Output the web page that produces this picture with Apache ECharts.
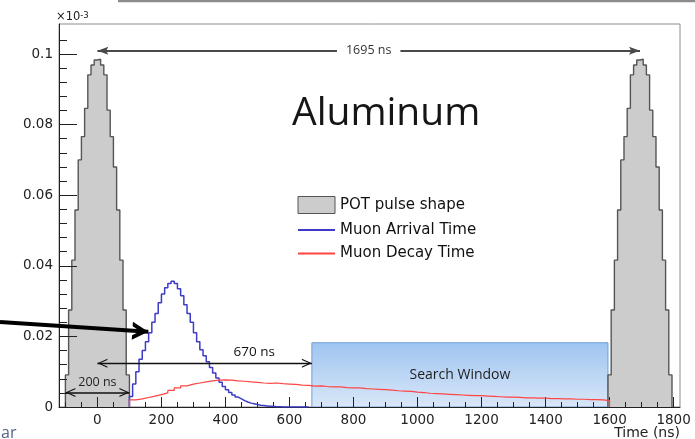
<!DOCTYPE html>
<html>
<head>
<meta charset="utf-8">
<script src="https://cdn.jsdelivr.net/npm/echarts@6/dist/echarts.min.js"></script>
<style>
html, body { margin: 0; padding: 0; background: #fff; }
#chart { width: 695px; height: 439px; }
</style>
</head>
<body>
<div id="chart"></div>
<script>
// Proton-on-target pulse: 10 ns bins covering +/-100 ns around each pulse centre (ns)
const pulseCentres = [0, 1695];
const pulseBinWidth = 10;
const pulseShape = [0.0091, 0.0275, 0.0416, 0.0558, 0.0700, 0.0766, 0.0846, 0.0941, 0.0969, 0.0983,
                    0.0985, 0.0969, 0.0941, 0.0841, 0.0766, 0.0680, 0.0558, 0.0416, 0.0275, 0.0091];

// Muon arrival time, 10 ns bins starting at 100 ns
const arrivalStart = 100;
const arrivalBinWidth = 10;
const arrivalValues = [0.0030, 0.0065, 0.0100, 0.0135, 0.0160, 0.0185, 0.0210, 0.0240, 0.0265, 0.0295,
                       0.0320, 0.0338, 0.0350, 0.0356, 0.0350, 0.0335, 0.0315, 0.0290, 0.0265, 0.0240,
                       0.0210, 0.0185, 0.0162, 0.0145, 0.0128, 0.0112, 0.0096, 0.0082, 0.0070, 0.0058,
                       0.0049, 0.0041, 0.0034, 0.0028, 0.0023, 0.0018, 0.0014, 0.0011, 0.0009, 0.0007,
                       0.0005, 0.0004, 0.0003, 0.0002, 0.0002, 0.0001, 0.0001, 0, 0, 0,
                       0, 0, 0, 0, 0, 0];

// Muon decay time, 20 ns bins starting at 100 ns
const decayStart = 100;
const decayBinWidth = 20;
const decayValues = [0.0020, 0.0023, 0.0027, 0.0031, 0.0035, 0.0040, 0.0047, 0.0054, 0.0060, 0.0065,
                     0.0068, 0.0071, 0.0074, 0.0076, 0.0077, 0.0076, 0.0074, 0.0073, 0.0071, 0.0070,
                     0.0068, 0.0067, 0.0068, 0.0066, 0.0065, 0.0064, 0.0062, 0.0061, 0.0059, 0.0060,
                     0.0058, 0.0057, 0.0057, 0.0055, 0.0054, 0.0054, 0.0052, 0.0051, 0.0050, 0.0049,
                     0.0048, 0.0046, 0.0045, 0.0044, 0.0042, 0.0041, 0.0039, 0.0038, 0.0037, 0.0036,
                     0.0035, 0.0034, 0.0033, 0.0032, 0.0032, 0.0031, 0.0030, 0.0029, 0.0028, 0.0028,
                     0.0027, 0.0026, 0.0026, 0.0025, 0.0025, 0.0024, 0.0024, 0.0023, 0.0023, 0.0022,
                     0.0022, 0.0021, 0.0021, 0.0020, 0.0018];

// Axis tick labels
const xTickValues = [0, 200, 400, 600, 800, 1000, 1200, 1400, 1600, 1800];
const yTickValues = [0, 0.02, 0.04, 0.06, 0.08, 0.1];

// Timing annotations (ns) and the search window
const bunchSpacing = 1695;
const windowDelay = 670;
const pulseWidth = 200;
const searchWindow = [670, 1595];
const searchWindowTop = 0.0182;

const xMinor = [];
for (let v = -100; v <= 1800; v += 50) xMinor.push(v);
const yMinor = [];
for (let i = 1; i <= 26; i++) yMinor.push(+(i * 0.004).toFixed(3));

// Turn bin contents into the outline of a step histogram
function histSteps(start, width, values) {
  const pts = [[start, 0]];
  values.forEach((v, i) => {
    pts.push([start + i * width, v]);
    pts.push([start + (i + 1) * width, v]);
  });
  pts.push([start + values.length * width, 0]);
  return pts;
}

const FONT = 'DejaVu Sans';
const NOTE_FONT = 'Open Sans';
// Arrow heads: the trailing moveTo mirrors the head's extent so its tip sits at the symbol centre,
// i.e. exactly on the line's end point.
const filledHead = 'path://M5,0 L10,12 L5,9.5 L0,12 Z M5,-12';
const thinChevron = 'path://M0,10 L5,0 L10,10 L8.7,10 L5,2.6 L1.3,10 Z M5,-10';
const boldChevron = 'path://M0,16 L9,0 L18,16 L13.5,16 L9,8 L4.5,16 Z M9,-16';

const pulseSeries = pulseCentres.map(c => ({
  type: 'line',
  name: 'POT pulse shape',
  data: histSteps(c - pulseBinWidth * pulseShape.length / 2, pulseBinWidth, pulseShape),
  symbol: 'none',
  lineStyle: { color: '#555', width: 1.4 },
  itemStyle: { color: '#cccccc' },
  areaStyle: { color: '#cccccc', opacity: 1 },
  z: 2
}));

function noteSeries(extra) {
  return Object.assign({ type: 'line', data: [], symbol: 'none', silent: true }, extra);
}

const chart = echarts.init(document.getElementById('chart'), null, { renderer: 'canvas' });

chart.setOption({
  animation: false,
  backgroundColor: '#fff',
  title: {
    text: 'Aluminum',
    left: 292, top: 94, padding: 0,
    textStyle: { fontFamily: NOTE_FONT, fontSize: 39, fontWeight: 'normal', color: '#151515' }
  },
  grid: {
    left: 59, right: 15, top: 24, bottom: 32,
    show: true, borderColor: '#8c8c8c', borderWidth: 1,
    outerBoundsMode: 'none'
  },
  legend: {
    orient: 'vertical', left: 297, top: 196, padding: 0,
    itemWidth: 37, itemHeight: 17, itemGap: 8.5,
    selectedMode: false,
    textStyle: { fontFamily: FONT, fontSize: 15, color: '#111' },
    data: [
      { name: 'POT pulse shape', icon: 'rect', itemStyle: { color: '#cccccc', borderColor: '#555', borderWidth: 1, opacity: 1 } },
      { name: 'Muon Arrival Time', itemStyle: { opacity: 0 } },
      { name: 'Muon Decay Time', itemStyle: { opacity: 0 } }
    ]
  },
  xAxis: [
    {
      type: 'value', position: 'bottom', min: -120, max: 1820, z: 3,
      axisLine: { onZero: false, lineStyle: { color: '#222', width: 1 } },
      axisTick: { inside: true, length: 10, customValues: xTickValues, lineStyle: { color: '#222' } },
      axisLabel: { customValues: xTickValues, formatter: v => String(v), margin: 6,
                   fontFamily: FONT, fontSize: 13.5, color: '#222' },
      splitLine: { show: false },
      name: 'Time (ns)', nameLocation: 'end', nameGap: 0, nameMoveOverlap: false,
      nameTextStyle: { align: 'right', verticalAlign: 'top', padding: [19, 0, 0, 0],
                       fontFamily: FONT, fontSize: 14, color: '#222' }
    },
    {
      type: 'value', position: 'bottom', min: -120, max: 1820, z: 3,
      axisLine: { show: false, onZero: false },
      axisTick: { inside: true, length: 5, customValues: xMinor, lineStyle: { color: '#222' } },
      axisLabel: { show: false },
      splitLine: { show: false }
    }
  ],
  yAxis: [
    {
      type: 'value', position: 'left', min: 0, max: 0.1085, z: 3,
      axisLine: { show: true, onZero: false, lineStyle: { color: '#222', width: 1 } },
      axisTick: { show: true, inside: true, length: 18, customValues: yTickValues, lineStyle: { color: '#222' } },
      axisLabel: { customValues: yTickValues, formatter: v => String(v), margin: 6,
                   fontFamily: FONT, fontSize: 13.5, color: '#222' },
      splitLine: { show: false },
      name: '{m|\u00d710}{e|-3}', nameLocation: 'end', nameGap: 1,
      nameTextStyle: {
        align: 'left', padding: [0, 0, 0, -3],
        rich: {
          m: { fontFamily: FONT, fontSize: 11.5, color: '#222' },
          e: { fontFamily: FONT, fontSize: 8.5, color: '#222', verticalAlign: 'top' }
        }
      }
    },
    {
      type: 'value', position: 'left', min: 0, max: 0.1085, z: 3,
      axisLine: { show: false, onZero: false },
      axisTick: { show: true, inside: true, length: 8, customValues: yMinor, lineStyle: { color: '#222' } },
      axisLabel: { show: false },
      splitLine: { show: false }
    }
  ],
  graphic: [
    { type: 'line', shape: { x1: 118, y1: 1, x2: 695, y2: 1 }, style: { stroke: '#8c8c8c', lineWidth: 2.5 }, silent: true },
    { type: 'text', left: 1, top: 425, style: { text: 'ar', fontFamily: NOTE_FONT, fontSize: 16, fill: '#56658a' }, silent: true }
  ],
  series: [
    ...pulseSeries,
    {
      type: 'line', name: 'Muon Arrival Time',
      data: histSteps(arrivalStart, arrivalBinWidth, arrivalValues),
      symbol: 'none',
      lineStyle: { color: '#3c3cc8', width: 1.5 },
      itemStyle: { color: '#3c3cc8' },
      z: 3
    },
    {
      type: 'line', name: 'Muon Decay Time',
      data: histSteps(decayStart, decayBinWidth, decayValues),
      symbol: 'none',
      lineStyle: { color: '#ff4545', width: 1.2 },
      itemStyle: { color: '#ff4545' },
      z: 3
    },
    // Search window box
    noteSeries({
      name: 'window',
      markArea: {
        silent: true,
        itemStyle: {
          color: { type: 'linear', x: 0, y: 0, x2: 0, y2: 1,
                   colorStops: [{ offset: 0, color: '#9fc4f1' }, { offset: 1, color: '#d9e7f8' }] },
          borderColor: '#6f9fd8', borderWidth: 1
        },
        label: { show: true, position: 'inside', formatter: 'Search Window',
                 fontFamily: NOTE_FONT, fontSize: 14, color: '#1e1e1e' },
        data: [[{ coord: [searchWindow[0], 0] }, { coord: [searchWindow[1], searchWindowTop] }]]
      }
    }),
    // Spacing between pulses
    noteSeries({
      name: 'spacing',
      markLine: {
        silent: true,
        symbol: [filledHead, filledHead], symbolSize: [8, 22],
        lineStyle: { color: '#4a4a4a', width: 2, type: 'solid' },
        label: { show: true, position: 'insideMiddle', formatter: bunchSpacing + ' ns',
                 backgroundColor: '#fff', padding: [2, 9], fontFamily: NOTE_FONT, fontSize: 12.5, color: '#333' },
        data: [[{ coord: [0, 0.1009] }, { coord: [bunchSpacing, 0.1009] }]]
      }
    }),
    // Delay from pulse centre to search window
    noteSeries({
      name: 'delay',
      markLine: {
        silent: true,
        symbol: [thinChevron, thinChevron], symbolSize: [9, 20],
        lineStyle: { color: '#111', width: 1.3, type: 'solid' },
        label: { show: true, position: 'insideEndTop', distance: [37, 4], formatter: windowDelay + ' ns',
                 fontFamily: NOTE_FONT, fontSize: 13.5, color: '#111' },
        data: [[{ coord: [0, 0.0124] }, { coord: [windowDelay, 0.0124] }]]
      }
    }),
    // Pulse width
    noteSeries({
      name: 'width',
      markLine: {
        silent: true,
        symbol: [thinChevron, thinChevron], symbolSize: [9, 20],
        lineStyle: { color: '#111', width: 1.5, type: 'solid' },
        label: { show: true, position: 'middle', distance: 4, formatter: pulseWidth + ' ns',
                 fontFamily: NOTE_FONT, fontSize: 12.5, color: '#222' },
        data: [[{ coord: [-pulseWidth / 2, 0.0041] }, { coord: [pulseWidth / 2, 0.0041] }]]
      }
    }),
    // Pointer onto the arrival-time rise
    noteSeries({
      name: 'pointer',
      markLine: {
        silent: true,
        symbol: ['none', boldChevron], symbolSize: [18, 32],
        lineStyle: { color: '#000', width: 4, type: 'solid' },
        label: { show: false },
        data: [[{ x: 0, y: 322 }, { coord: [159, 0.0213] }]]
      }
    })
  ]
});
</script>
</body>
</html>
